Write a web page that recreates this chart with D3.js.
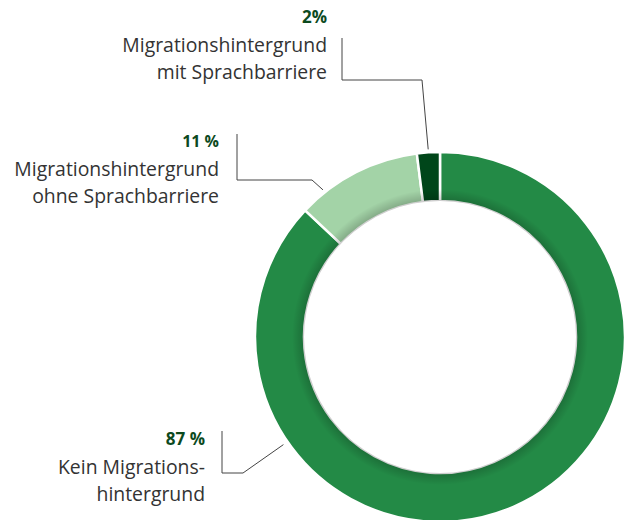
<!doctype html>
<html lang="de">
  <head>
    <meta charset="UTF-8" />
    <title>Migrationshintergrund</title>
    <style>
      body { margin: 0; background: #fff; }
      svg { display: block; }
      text { font-family: "Open Sans", sans-serif; }
    </style>
  </head>
  <body>
    <div id="target"></div>
    <script src="https://d3js.org/d3.v7.min.js"></script>
    <script>
      /* global d3 */
      const categories = [
        "Kein Migrationshintergrund",
        "Migrationshintergrund ohne Sprachbarriere",
        "Migrationshintergrund mit Sprachbarriere",
      ];
      const values = [87, 11, 2];
      const percentLabels = ["87 %", "11 %", "2%"];
      const labelLines = [
        ["Kein Migrations-", "hintergrund"],
        ["Migrationshintergrund", "ohne Sprachbarriere"],
        ["Migrationshintergrund", "mit Sprachbarriere"],
      ];
      const colors = ["#238a46", "#a3d3a7", "#00461a"];

      const width = 630,
        height = 520;
      const cx = 440,
        cy = 337,
        outerR = 185,
        innerR = 136;

      const svg = d3
        .select("#target")
        .append("svg")
        .attr("width", width)
        .attr("height", height);

      const data = categories.map((c, i) => ({
        name: c,
        value: values[i],
        color: colors[i],
        pct: percentLabels[i],
        lines: labelLines[i],
      }));

      const pie = d3.pie().sort(null).value((d) => d.value);
      const arcs = pie(data);
      const arc = d3.arc().innerRadius(innerR).outerRadius(outerR);

      // soft shadow at inner edge of the ring
      const defs = svg.append("defs");
      const grad = defs
        .append("radialGradient")
        .attr("id", "innerShade")
        .attr("gradientUnits", "userSpaceOnUse")
        .attr("cx", 0)
        .attr("cy", 0)
        .attr("r", outerR);
      grad.append("stop").attr("offset", innerR / outerR).attr("stop-color", "#000").attr("stop-opacity", 0.2);
      grad.append("stop").attr("offset", (innerR + 12) / outerR).attr("stop-color", "#000").attr("stop-opacity", 0);

      const g = svg.append("g").attr("transform", `translate(${cx},${cy})`);

      g.selectAll("path.slice")
        .data(arcs)
        .join("path")
        .attr("class", "slice")
        .attr("d", arc)
        .attr("fill", (d) => d.data.color)
        .attr("stroke", "#fff")
        .attr("stroke-width", 2.5);

      g.append("path")
        .attr("d", d3.arc().innerRadius(innerR).outerRadius(innerR + 12).startAngle(0).endAngle(2 * Math.PI)())
        .attr("fill", "url(#innerShade)");

      const pointAt = (deg, r) => {
        const a = (deg * Math.PI) / 180;
        return [cx + r * Math.sin(a), cy - r * Math.cos(a)];
      };

      // label layout: text anchor, leader line bend points, end angle on the ring (degrees)
      const layout = [
        { tx: 205, ty: 445, pctSize: 17, vx: 222, vTop: 431, vBot: 473, hx: 243, deg: 235.5, r: 190 },
        { tx: 219, ty: 147, pctSize: 16, vx: 237, vTop: 134, vBot: 180, hx: 312, deg: -38.5, r: 188 },
        { tx: 327, ty: 23, pctSize: 17, vx: 342, vTop: 38, vBot: 80, hx: 422, deg: -3.6, r: 188 },
      ];

      arcs.forEach((a, i) => {
        const l = layout[i];
        svg.append("path")
          .attr("d", d3.line()([[l.vx, l.vTop], [l.vx, l.vBot], [l.hx, l.vBot], pointAt(l.deg, l.r)]))
          .attr("fill", "none")
          .attr("stroke", "#444")
          .attr("stroke-width", 1);

        const t = svg.append("g").attr("text-anchor", "end");
        t.append("text")
          .attr("x", l.tx)
          .attr("y", l.ty)
          .attr("fill", "#0c4a1e")
          .attr("font-weight", 700)
          .attr("font-size", l.pctSize)
          .text(a.data.pct);
        a.data.lines.forEach((line, j) => {
          t.append("text")
            .attr("x", l.tx)
            .attr("y", l.ty + 29 + j * 27)
            .attr("fill", "#333")
            .attr("font-size", 19.4)
            .text(line);
        });
      });
    </script>
  </body>
</html>
